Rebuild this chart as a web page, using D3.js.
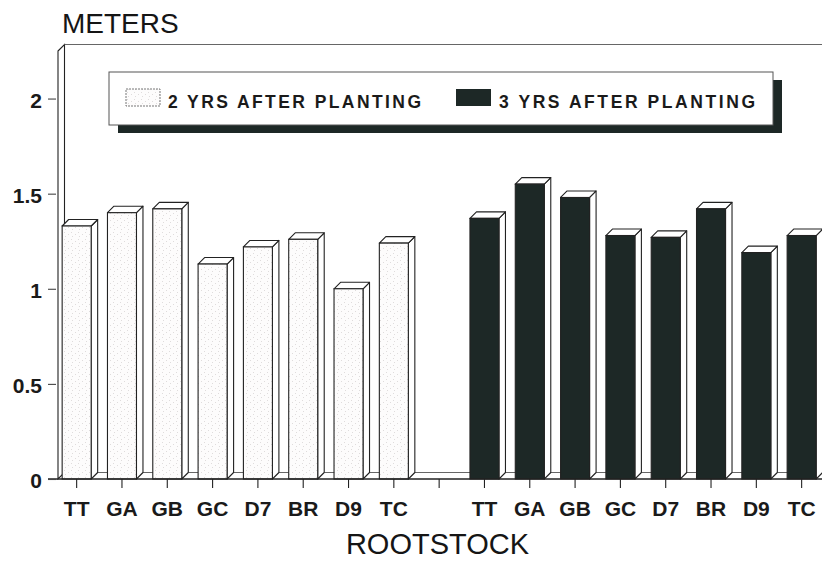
<!DOCTYPE html>
<html>
<head>
<meta charset="utf-8">
<script src="https://cdn.jsdelivr.net/npm/d3@7"></script>
<style>
  html, body { margin: 0; padding: 0; background: #fff; }
  svg { display: block; font-family: "Liberation Sans", Arial, Helvetica, sans-serif; }
</style>
</head>
<body>
<svg id="chart" width="822" height="561"></svg>
<script>
// Rootstock codes shown under each group of bars
const rootstocks = ["TT", "GA", "GB", "GC", "D7", "BR", "D9", "TC"];
// Tree height (m) two and three years after planting
const yrs2 = [1.33, 1.40, 1.42, 1.13, 1.22, 1.26, 1.00, 1.24];
const yrs3 = [1.37, 1.55, 1.48, 1.28, 1.27, 1.42, 1.19, 1.28];
const seriesNames = ["2 YRS AFTER PLANTING", "3 YRS AFTER PLANTING"];
const yTicks = [0, 0.5, 1, 1.5, 2];

const svg = d3.select("#chart");
const W = 822;
const depth = 6.5;
const dark = "#1d2826";
const ink = "#222";

// one band per bar, with an empty band separating the two groups
const slots = [
  ...rootstocks.map((r, i) => ({ key: "a" + r, label: r, value: yrs2[i], series: 0 })),
  { key: "gap", label: "", value: null, series: -1 },
  ...rootstocks.map((r, i) => ({ key: "b" + r, label: r, value: yrs3[i], series: 1 }))
];

const x = d3.scaleBand().domain(slots.map(d => d.key)).range([54, 824.3]).padding(0);
const y = d3.scaleLinear().domain([0, 2.25]).range([479, 51]);
const barW = x.bandwidth() * 0.64;

// faint stipple fill for the lighter series
const defs = svg.append("defs");
const pat = defs.append("pattern").attr("id", "stipple")
  .attr("patternUnits", "userSpaceOnUse").attr("width", 7).attr("height", 7);
pat.append("rect").attr("width", 7).attr("height", 7).attr("fill", "#fdfcfc");
[[1, 1], [5, 3], [2, 5]].forEach(([px, py]) =>
  pat.append("rect").attr("x", px).attr("y", py).attr("width", 0.8).attr("height", 0.8).attr("fill", "#cfcaca"));

const y0 = y(0);
const wallFront = 58, wallBack = wallFront + depth;
const yTop = y.range()[1];

// left wall slab and back-wall top edge
svg.append("polygon")
  .attr("points", [[wallFront, yTop], [wallBack, yTop - depth], [wallBack, y0 - depth], [wallFront, y0]].join(" "))
  .attr("fill", "#fff").attr("stroke", ink).attr("stroke-width", 1.1);
svg.append("line").attr("x1", wallBack).attr("x2", W).attr("y1", yTop - depth).attr("y2", yTop - depth)
  .attr("stroke", "#666").attr("stroke-width", 1);

// floor back edge
svg.append("line").attr("x1", wallBack).attr("x2", W).attr("y1", y0 - depth).attr("y2", y0 - depth)
  .attr("stroke", "#666").attr("stroke-width", 1);

// legend with drop shadow
const lg = svg.append("g");
lg.append("rect").attr("x", 118).attr("y", 80).attr("width", 664).attr("height", 53).attr("fill", dark);
lg.append("rect").attr("x", 109).attr("y", 72).attr("width", 664).attr("height", 53)
  .attr("fill", "#fff").attr("stroke", "#555").attr("stroke-width", 1);
lg.append("rect").attr("x", 126).attr("y", 89).attr("width", 34).attr("height", 17)
  .attr("fill", "url(#stipple)").attr("stroke", "#777").attr("stroke-width", 1).attr("stroke-dasharray", "2,1");
lg.append("rect").attr("x", 456).attr("y", 89).attr("width", 35).attr("height", 17).attr("fill", dark);
lg.append("text").attr("x", 168).attr("y", 108).text(seriesNames[0])
  .attr("font-size", 17.5).attr("font-weight", "bold").attr("fill", "#1a1a1a")
  .attr("textLength", 253).attr("lengthAdjust", "spacing");
lg.append("text").attr("x", 499).attr("y", 108).text(seriesNames[1])
  .attr("font-size", 17.5).attr("font-weight", "bold").attr("fill", "#1a1a1a")
  .attr("textLength", 256).attr("lengthAdjust", "spacing");

// 3D bars: side face, top face, front face
const bars = svg.append("g").selectAll("g")
  .data(slots.filter(d => d.value !== null)).join("g");
bars.each(function (d) {
  const g = d3.select(this);
  const x0 = x(d.key) + (x.bandwidth() - barW) / 2;
  const x1 = x0 + barW;
  const yt = y(d.value);
  g.append("polygon")
    .attr("points", [[x1, yt], [x1 + depth, yt - depth], [x1 + depth, y0 - depth], [x1, y0]].join(" "))
    .attr("fill", "#fff").attr("stroke", ink).attr("stroke-width", 1.1).attr("stroke-linejoin", "round");
  g.append("polygon")
    .attr("points", [[x0, yt], [x0 + depth, yt - depth], [x1 + depth, yt - depth], [x1, yt]].join(" "))
    .attr("fill", "#fff").attr("stroke", ink).attr("stroke-width", 1.1).attr("stroke-linejoin", "round");
  g.append("rect").attr("x", x0).attr("y", yt).attr("width", barW).attr("height", y0 - yt)
    .attr("fill", d.series === 0 ? "url(#stipple)" : dark)
    .attr("stroke", ink).attr("stroke-width", 1.1);
});

// baseline
svg.append("line").attr("x1", 48).attr("x2", W).attr("y1", y0).attr("y2", y0)
  .attr("stroke", ink).attr("stroke-width", 1.3);

// x axis ticks and labels
const xAxis = d3.axisBottom(x).tickSize(9).tickPadding(13)
  .tickFormat(k => slots.find(s => s.key === k).label);
const gx = svg.append("g").attr("transform", `translate(0,${y0})`).call(xAxis);
gx.select(".domain").remove();
gx.selectAll(".tick line").attr("stroke", ink).attr("stroke-width", 1.1);
gx.selectAll(".tick text").attr("font-size", 21).attr("font-weight", "bold")
  .attr("fill", "#1a1a1a").attr("font-family", "Liberation Sans, Arial, sans-serif");

// y axis ticks and labels
const yAxis = d3.axisLeft(y).tickValues(yTicks).tickSize(8).tickPadding(6)
  .tickFormat(d => String(d));
const gy = svg.append("g").attr("transform", `translate(56,0)`).call(yAxis);
gy.select(".domain").remove();
gy.selectAll(".tick line").attr("stroke", "#444").attr("stroke-width", 1.1);
gy.selectAll(".tick text").attr("font-size", 21).attr("font-weight", "bold")
  .attr("fill", "#1a1a1a").attr("dy", "0.42em").attr("font-family", "Liberation Sans, Arial, sans-serif");

// axis titles
svg.append("text").attr("x", 62).attr("y", 33).text("METERS")
  .attr("font-size", 28).attr("fill", "#151515");
svg.append("text").attr("x", 437.5).attr("y", 554).attr("text-anchor", "middle").text("ROOTSTOCK")
  .attr("font-size", 29).attr("fill", "#151515");
</script>
</body>
</html>
